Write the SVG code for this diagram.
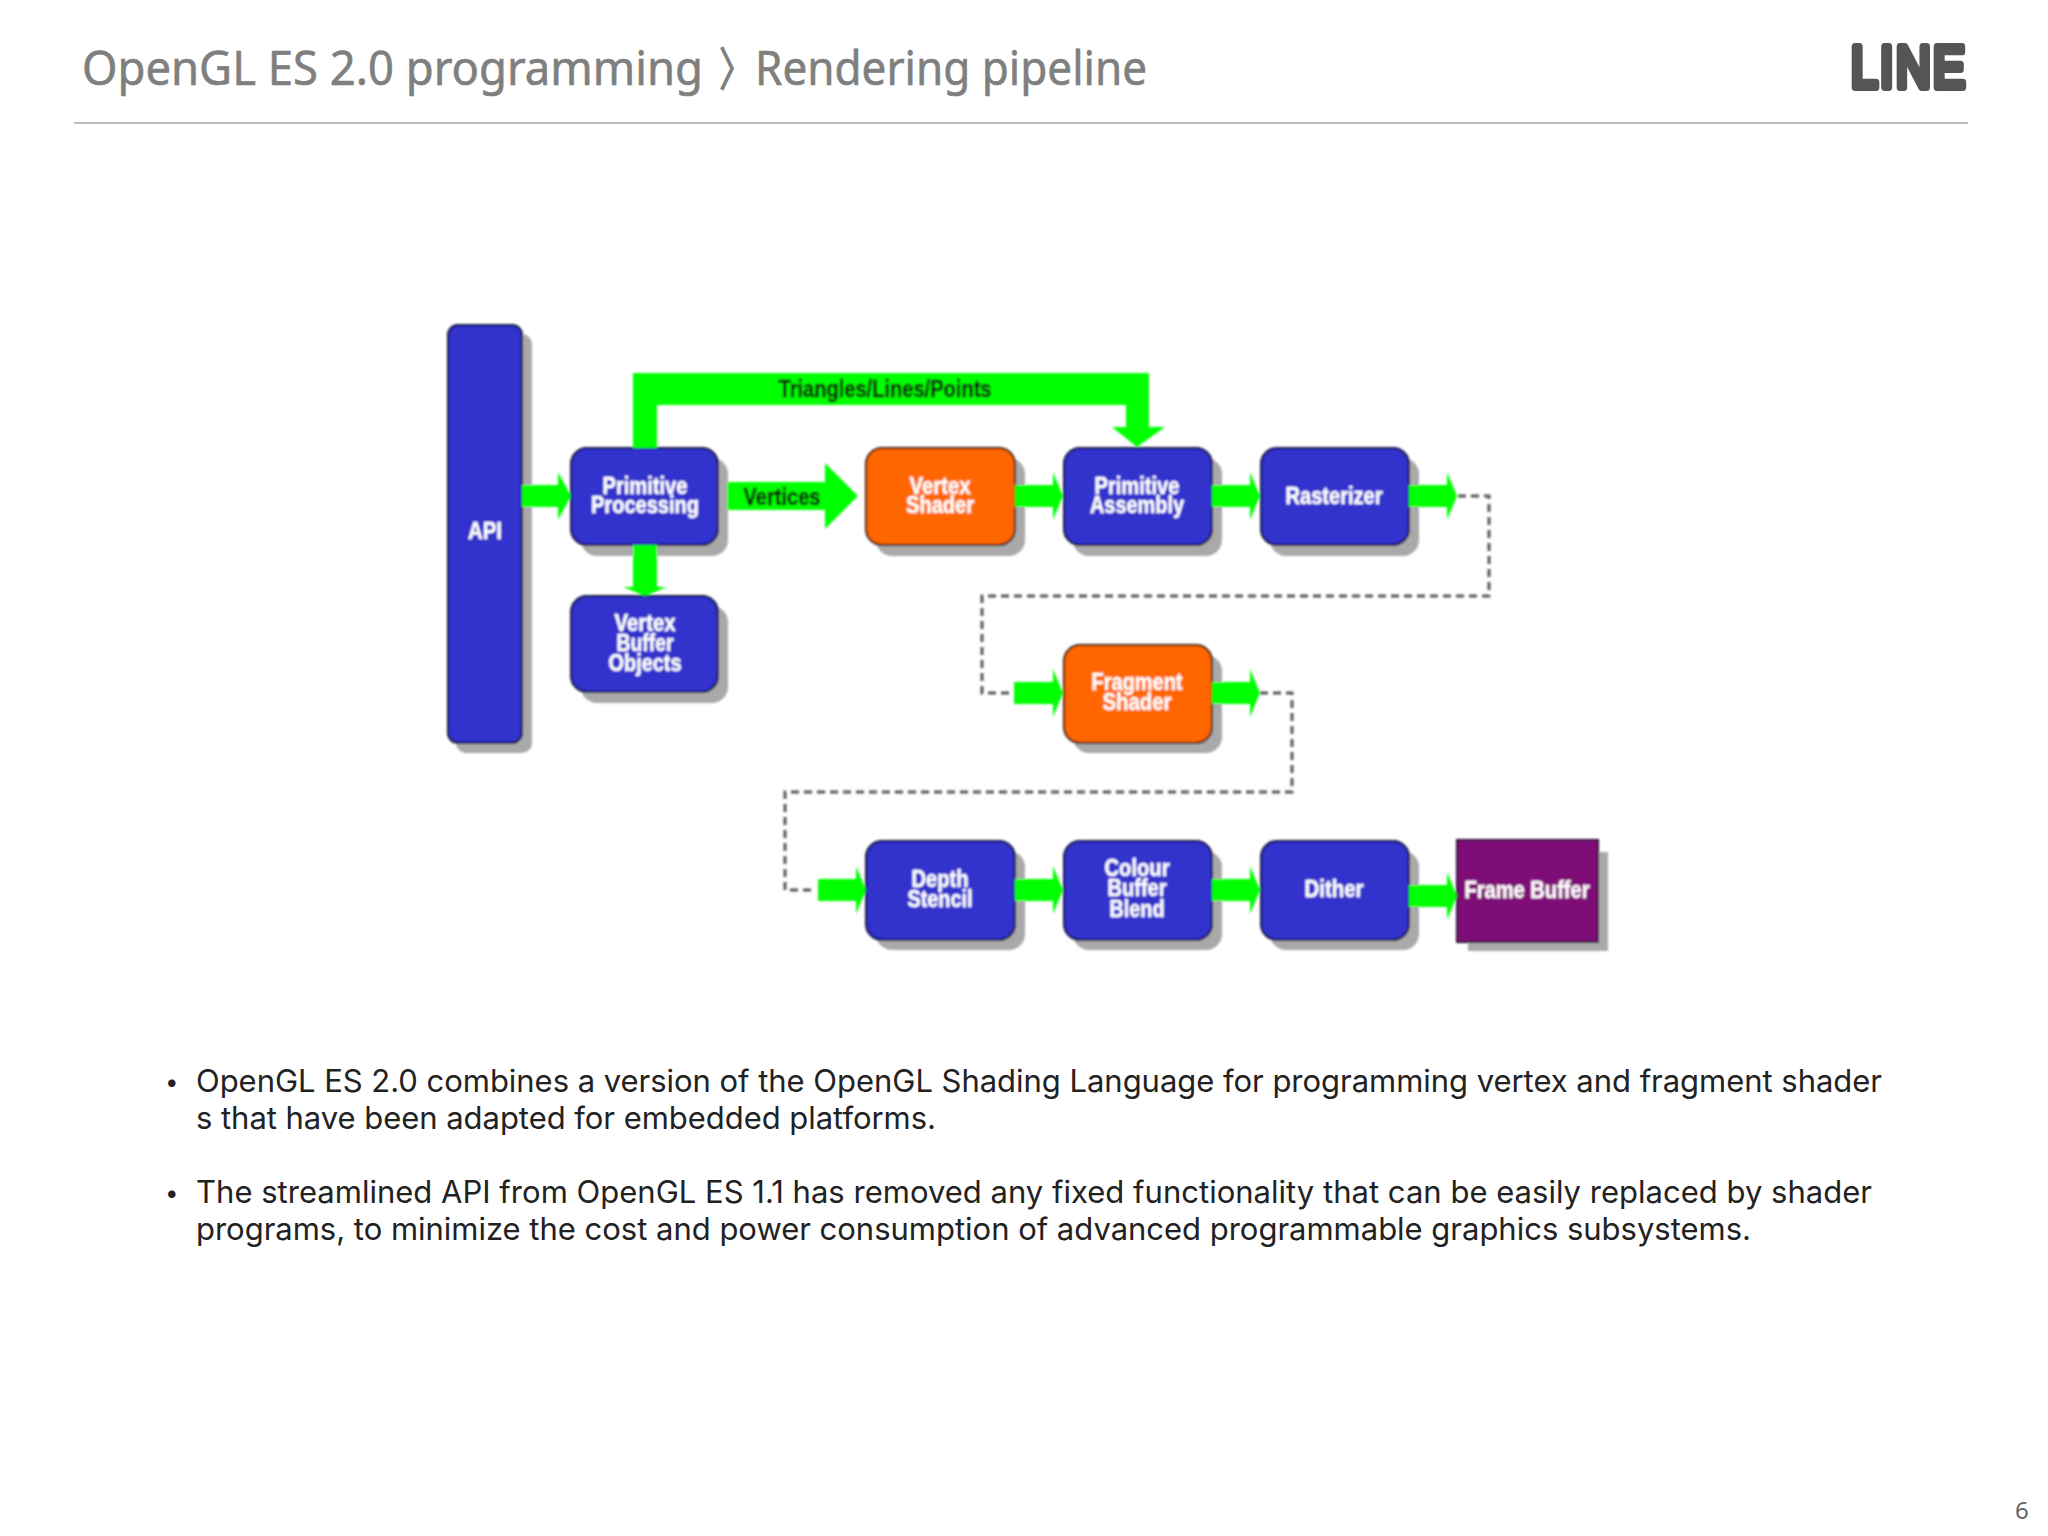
<svg xmlns="http://www.w3.org/2000/svg" width="2048" height="1536" viewBox="0 0 2048 1536">
<style>
.shadow{fill:#a9a9a9}
.blue{fill:#3030cc;stroke:#14143c;stroke-width:2}
.orange{fill:#ff6600;stroke:#3c2010;stroke-width:2}
.purple{fill:#7f1077;stroke:#2c1030;stroke-width:2}
.lbl{font-family:"Liberation Sans",Arial,sans-serif;font-weight:700;font-size:24px;fill:#fff;stroke:#fff;stroke-width:.4;text-anchor:middle}
.dark{fill:#0a1a0a;stroke:#0a1a0a}
.arrow{fill:#00ff00}
.dash{fill:none;stroke:#555;stroke-width:3;stroke-dasharray:8 5}
.title{font-family:"Noto Sans",sans-serif;font-size:47px;fill:#7f7f7f;stroke:#7f7f7f;stroke-width:.6}
.body{font-family:Inter,"Liberation Sans",sans-serif;font-size:31px;fill:#222}
.bullet{font-family:Inter,"Liberation Sans",sans-serif;font-size:24px;fill:#222}
</style>
<defs><filter id="soft" x="-5%" y="-5%" width="110%" height="110%"><feGaussianBlur stdDeviation="0.9"/></filter></defs>
<rect width="2048" height="1536" fill="#fff"/>
<g id="header">
<text class="title" x="82" y="85" textLength="621" lengthAdjust="spacingAndGlyphs">OpenGL ES 2.0 programming</text>
<text class="title" x="719" y="85" textLength="35" lengthAdjust="spacingAndGlyphs" style="font-family:'Noto Sans CJK KR',sans-serif;font-size:46px;stroke-width:1.2">〉</text>
<text class="title" x="755" y="85" textLength="392" lengthAdjust="spacingAndGlyphs">Rendering pipeline</text>
<text id="logo" transform="translate(1851 87) scale(1 1.2)" textLength="114" lengthAdjust="spacing" style="font-family:'Liberation Sans',sans-serif;font-size:48px;fill:#555;stroke:#555;stroke-width:6.5;stroke-linejoin:round;stroke-linecap:round">LINE</text>
<rect x="74" y="122" width="1894" height="2" fill="#bdbdbd"/>
</g>
<g filter="url(#soft)">
<g id="api"><rect class="shadow" x="456" y="334" width="76" height="419" rx="10"/><rect class="blue" x="448" y="325" width="74" height="418" rx="10"/><text class="lbl" x="485" y="539" textLength="34" lengthAdjust="spacingAndGlyphs">API</text></g>
<g id="primitive-processing"><rect class="shadow" x="581" y="458" width="147" height="98" rx="16"/><rect class="blue" x="571" y="448" width="147" height="97" rx="16"/><text class="lbl" x="645" y="494" textLength="85" lengthAdjust="spacingAndGlyphs">Primitive</text><text class="lbl" x="645" y="513" textLength="108" lengthAdjust="spacingAndGlyphs">Processing</text></g>
<g id="vertex-shader"><rect class="shadow" x="876" y="458" width="149" height="98" rx="16"/><rect class="orange" x="866" y="448" width="149" height="97" rx="16"/><text class="lbl" x="940" y="494" textLength="61" lengthAdjust="spacingAndGlyphs">Vertex</text><text class="lbl" x="940" y="513" textLength="68" lengthAdjust="spacingAndGlyphs">Shader</text></g>
<g id="primitive-assembly"><rect class="shadow" x="1073" y="458" width="149" height="98" rx="16"/><rect class="blue" x="1064" y="448" width="148" height="97" rx="16"/><text class="lbl" x="1137" y="494" textLength="85" lengthAdjust="spacingAndGlyphs">Primitive</text><text class="lbl" x="1137" y="513" textLength="94" lengthAdjust="spacingAndGlyphs">Assembly</text></g>
<g id="rasterizer"><rect class="shadow" x="1270" y="458" width="149" height="98" rx="16"/><rect class="blue" x="1261" y="448" width="148" height="97" rx="16"/><text class="lbl" x="1334" y="504" textLength="97" lengthAdjust="spacingAndGlyphs">Rasterizer</text></g>
<g id="vertex-buffer-objects"><rect class="shadow" x="581" y="606" width="147" height="97" rx="16"/><rect class="blue" x="571" y="596" width="147" height="96" rx="16"/><text class="lbl" x="645" y="631" textLength="61" lengthAdjust="spacingAndGlyphs">Vertex</text><text class="lbl" x="645" y="651" textLength="57" lengthAdjust="spacingAndGlyphs">Buffer</text><text class="lbl" x="645" y="671" textLength="73" lengthAdjust="spacingAndGlyphs">Objects</text></g>
<g id="fragment-shader"><rect class="shadow" x="1073" y="655" width="149" height="98" rx="16"/><rect class="orange" x="1064" y="645" width="148" height="98" rx="16"/><text class="lbl" x="1137" y="690" textLength="91" lengthAdjust="spacingAndGlyphs">Fragment</text><text class="lbl" x="1137" y="710" textLength="69" lengthAdjust="spacingAndGlyphs">Shader</text></g>
<g id="depth-stencil"><rect class="shadow" x="876" y="851" width="149" height="99" rx="16"/><rect class="blue" x="866" y="841" width="149" height="99" rx="16"/><text class="lbl" x="940" y="887" textLength="57" lengthAdjust="spacingAndGlyphs">Depth</text><text class="lbl" x="940" y="907" textLength="65" lengthAdjust="spacingAndGlyphs">Stencil</text></g>
<g id="colour-buffer-blend"><rect class="shadow" x="1073" y="851" width="149" height="99" rx="16"/><rect class="blue" x="1064" y="841" width="148" height="99" rx="16"/><text class="lbl" x="1137" y="876" textLength="65" lengthAdjust="spacingAndGlyphs">Colour</text><text class="lbl" x="1137" y="896" textLength="59" lengthAdjust="spacingAndGlyphs">Buffer</text><text class="lbl" x="1137" y="917" textLength="55" lengthAdjust="spacingAndGlyphs">Blend</text></g>
<g id="dither"><rect class="shadow" x="1270" y="851" width="149" height="99" rx="16"/><rect class="blue" x="1261" y="841" width="148" height="99" rx="16"/><text class="lbl" x="1334" y="897" textLength="59" lengthAdjust="spacingAndGlyphs">Dither</text></g>
<g id="frame-buffer"><rect class="shadow" x="1468" y="852" width="140" height="99"/><rect class="purple" x="1457" y="840" width="141" height="102"/><text class="lbl" x="1527" y="898" textLength="125" lengthAdjust="spacingAndGlyphs">Frame Buffer</text></g>
<g id="connectors">
<path class="dash" d="M1458 496H1489V596H982V693H1013"/>
<path class="dash" d="M1260 693H1292V792H785V890H816"/>
<path class="arrow" d="M633 448V373H1149V427H1165L1137 447L1112 427H1126V405H657V448Z"/>
<text class="lbl dark" x="885" y="397" textLength="213" lengthAdjust="spacingAndGlyphs">Triangles/Lines/Points</text>
<path class="arrow" d="M522 485H558V472L571 496L558 520V507H522Z"/>
<path class="arrow" d="M727 482H825V463L858 496L825 529V510H727Z"/>
<text class="lbl dark" x="782" y="505" textLength="77" lengthAdjust="spacingAndGlyphs">Vertices</text>
<path class="arrow" d="M633 545H657V587H667L645 596L623 587H633Z"/>
<path class="arrow" d="M1015 485H1053V472L1063 496L1053 520V507H1015Z"/>
<path class="arrow" d="M1212 485H1250V472L1260 496L1250 520V507H1212Z"/>
<path class="arrow" d="M1409 485H1447V472L1457 496L1447 520V507H1409Z"/>
<path class="arrow" d="M1014 682H1053V669L1063 693L1053 717V704H1014Z"/>
<path class="arrow" d="M1212 682H1250V669L1260 693L1250 717V704H1212Z"/>
<path class="arrow" d="M818 879H856V866L866 890L856 914V901H818Z"/>
<path class="arrow" d="M1015 879H1053V866L1063 890L1053 914V901H1015Z"/>
<path class="arrow" d="M1212 879H1250V866L1260 890L1250 914V901H1212Z"/>
<path class="arrow" d="M1409 885H1447V872L1457 896L1447 920V907H1409Z"/>
</g>
</g>
<g id="notes">
<text class="bullet" x="165" y="1090">•</text>
<text class="body" x="196" y="1092" textLength="1686">OpenGL ES 2.0 combines a version of the OpenGL Shading Language for programming vertex and fragment shader</text>
<text class="body" x="196" y="1129" textLength="740">s that have been adapted for embedded platforms.</text>
<text class="bullet" x="165" y="1201">•</text>
<text class="body" x="196" y="1203" textLength="1676">The streamlined API from OpenGL ES 1.1 has removed any fixed functionality that can be easily replaced by shader</text>
<text class="body" x="196" y="1240" textLength="1555">programs, to minimize the cost and power consumption of advanced programmable graphics subsystems.</text>
</g>
<text id="page-number" x="2015" y="1519" style="font-family:'Noto Sans',sans-serif;font-size:24px;fill:#666">6</text>
</svg>
